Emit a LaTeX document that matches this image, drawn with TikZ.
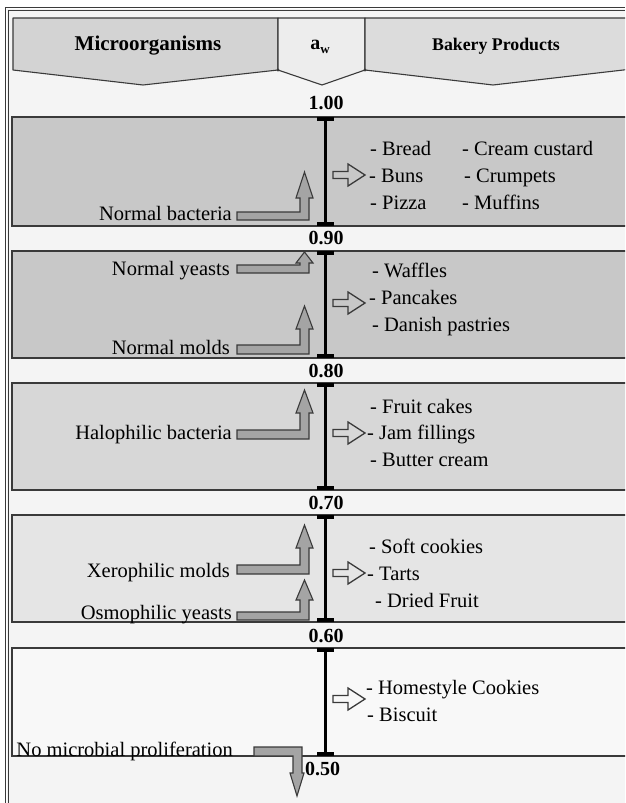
\documentclass[tikz,border=0pt]{standalone}
\usepackage{fontspec}
\setmainfont{Liberation Serif}
\usetikzlibrary{calc}

\definecolor{paper}{HTML}{F4F4F4}
\definecolor{edge}{HTML}{3A3A3A}
\definecolor{hdrmicro}{HTML}{D3D3D3}
\definecolor{hdraw}{HTML}{EDEDED}
\definecolor{hdrbakery}{HTML}{DCDCDC}
\definecolor{bandA}{HTML}{C8C8C8}
\definecolor{bandB}{HTML}{D7D7D7}
\definecolor{bandC}{HTML}{E5E5E5}
\definecolor{bandD}{HTML}{F8F8F8}
\definecolor{arrowfill}{HTML}{A4A4A4}

\tikzset{
  hdrshape/.style={draw=edge, line width=1.1pt, line join=round},
  band/.style={draw=edge, line width=1.1pt},
  axisline/.style={line width=3.6pt, black},
  axiscap/.style={line width=3.6pt, black},
  bentarrow/.style={draw=edge, fill=arrowfill, line width=1.1pt, line join=miter},
  hollowarrow/.style={draw=edge, line width=1.3pt, line join=miter},
  bodytext/.style={inner sep=0pt, font=\fontsize{20.5}{24}\selectfont},
  valtext/.style={inner sep=0pt, font=\fontsize{20}{24}\selectfont\bfseries},
}

% bent arrow from a microorganism label up to the axis:
% #1 bar top, #2 bar bottom, #3 head base, #4 tip (all y)
\newcommand\upbent[4]{%
  \draw[bentarrow] (237,#1) -- (300,#1) -- (300,#3) -- (296,#3) -- (304.5,#4)
    -- (313,#3) -- (309,#3) -- (309,#2) -- (237,#2) -- cycle;}

% open arrow pointing to the product list, centred at height #1
\newcommand\prodarrow[1]{%
  \draw[hollowarrow] (333,#1-3.5) -- (348,#1-3.5) -- (348,#1-11) -- (365,#1)
    -- (348,#1+11) -- (348,#1+3.5) -- (333,#1+3.5) -- cycle;}

% one axis segment with end caps between y=#2 and y=#3, named #1
\newcommand\axisseg[3]{%
  \coordinate (#1t) at (325.5,#2);
  \coordinate (#1b) at (325.5,#3);
  \draw[axisline] (#1t) -- (#1b);
  \draw[axiscap] ([xshift=-8.5pt,yshift=-1.8pt]#1t) -- ([xshift=8.5pt,yshift=-1.8pt]#1t);
  \draw[axiscap] ([xshift=-8.5pt,yshift=1.8pt]#1b) -- ([xshift=8.5pt,yshift=1.8pt]#1b);}

\begin{document}
\begin{tikzpicture}[x=1pt,y=-1pt]
\useasboundingbox (0,0) rectangle (625,803);
\clip (0,0) rectangle (625,803);

% sheet and frame
\fill[white] (0,0) rectangle (625,803);
\fill[paper] (7,9) rectangle (625,803);
\draw[edge, line width=0.9pt] (5.5,803) -- (5.5,7.5) -- (625,7.5);
\draw[edge, line width=0.9pt] (8.5,803) -- (8.5,10) -- (625,10);

% header tabs
\draw[hdrshape, fill=hdrmicro] (13,18) -- (278,18) -- (278,70) -- (143,85) -- (13,70) -- cycle;
\draw[hdrshape, fill=hdraw] (278,18) -- (365,18) -- (365,70) -- (322,85) -- (278,70) -- cycle;
\draw[hdrshape, fill=hdrbakery] (365,18) -- (632,18) -- (632,69) -- (493,85) -- (365,70) -- cycle;
\fill[edge] (278,70) circle (1.6) (365,70) circle (1.6);

\node[inner sep=0pt, font=\fontsize{21}{24}\selectfont\bfseries] (hmicro) at (148,46) {Microorganisms};
\node[inner sep=0pt, font=\fontsize{20}{24}\selectfont\bfseries] (haw) at (320,47)
  {a\raisebox{-0.4ex}{\fontsize{13}{15}\selectfont w}};
\node[inner sep=0pt, font=\fontsize{17.8}{22}\selectfont\bfseries] (hbakery) at (496,46) {Bakery Products};

% water-activity bands
\draw[band, fill=bandA] (12,117) rectangle (632,226);
\draw[band, fill=bandA] (12,251) rectangle (632,358);
\draw[band, fill=bandB] (12,383) rectangle (632,490);
\draw[band, fill=bandC] (12,515) rectangle (632,622);
\draw[band, fill=bandD] (12,648) rectangle (632,756);

% axis
\axisseg{a1}{117}{226}
\axisseg{a2}{251}{358}
\axisseg{a3}{383}{490}
\axisseg{a4}{515}{622}
\axisseg{a5}{648}{756}

% a_w values
\node[valtext] (v100) at (326,103) {1.00};
\node[valtext] (v090) at (326,238) {0.90};
\node[valtext] (v080) at (326,371) {0.80};
\node[valtext] (v070) at (326,503) {0.70};
\node[valtext] (v060) at (326,636) {0.60};
\node[valtext, anchor=west] (v050) at (305,769) {0.50};

% microorganisms
\node[bodytext, anchor=base east] (mbact) at (232,220) {Normal bacteria};
\node[bodytext, anchor=base east] (myeast) at (230,275) {Normal yeasts};
\node[bodytext, anchor=base east] (mmold) at (230,354) {Normal molds};
\node[bodytext, anchor=base east] (mhalo) at (232,439) {Halophilic bacteria};
\node[bodytext, anchor=base east] (mxero) at (230,577) {Xerophilic molds};
\node[bodytext, anchor=base east] (mosmo) at (232,619) {Osmophilic yeasts};
\node[bodytext, anchor=base east] (mnone) at (233,756) {No microbial proliferation};

\upbent{212}{220}{198}{172}
\upbent{265}{273}{263}{252}
\upbent{345}{354}{329}{306}
\upbent{430}{439}{413}{390}
\upbent{565}{574}{548}{525}
\upbent{612}{620}{600}{580}

% downward arrow below 0.50
\draw[bentarrow] (254,747) -- (302,747) -- (302,773) -- (304,773) -- (297,796)
  -- (290,773) -- (293,773) -- (293,756) -- (254,756) -- cycle;

% arrows to the products
\prodarrow{175}
\prodarrow{303}
\prodarrow{433}
\prodarrow{573}
\prodarrow{699}

% bakery products
\node[bodytext, anchor=base west] (p11) at (370,155) {- Bread};
\node[bodytext, anchor=base west] (p12) at (369,182) {- Buns};
\node[bodytext, anchor=base west] (p13) at (370,209) {- Pizza};
\node[bodytext, anchor=base west] (p14) at (462,155) {- Cream custard};
\node[bodytext, anchor=base west] (p15) at (464,182) {- Crumpets};
\node[bodytext, anchor=base west] (p16) at (462,209) {- Muffins};

\node[bodytext, anchor=base west] (p21) at (372,277) {- Waffles};
\node[bodytext, anchor=base west] (p22) at (369,304) {- Pancakes};
\node[bodytext, anchor=base west] (p23) at (372,331) {- Danish pastries};

\node[bodytext, anchor=base west] (p31) at (370,413) {- Fruit cakes};
\node[bodytext, anchor=base west] (p32) at (367,439) {- Jam fillings};
\node[bodytext, anchor=base west] (p33) at (370,466) {- Butter cream};

\node[bodytext, anchor=base west] (p41) at (369,553) {- Soft cookies};
\node[bodytext, anchor=base west] (p42) at (367,580) {- Tarts};
\node[bodytext, anchor=base west] (p43) at (375,607) {- Dried Fruit};

\node[bodytext, anchor=base west] (p51) at (366,694) {- Homestyle Cookies};
\node[bodytext, anchor=base west] (p52) at (367,721) {- Biscuit};
\end{tikzpicture}
\end{document}
